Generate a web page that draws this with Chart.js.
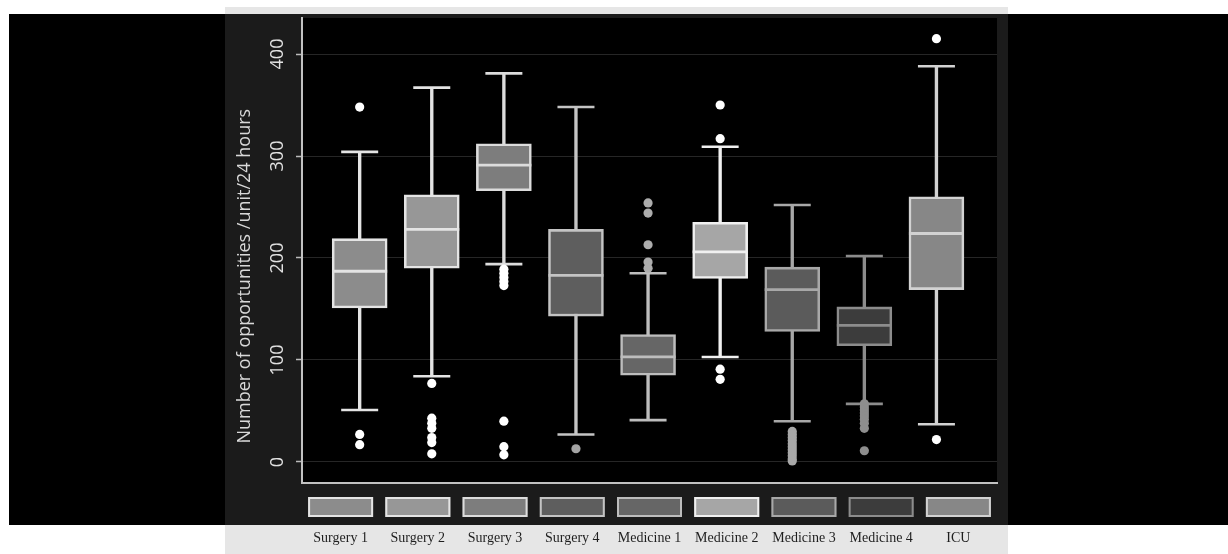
<!DOCTYPE html>
<html>
<head>
<meta charset="utf-8">
<script src="https://cdn.jsdelivr.net/npm/chart.js@4.4.1/dist/chart.umd.min.js"></script>
<style>
    html, body { margin: 0; padding: 0; background: #fff; }
    body { position: relative; width: 1228px; height: 554px; overflow: hidden; }
    #backdrop { position: absolute; left: 9px; top: 14px; width: 1219px; height: 511px; background: #000; }
    #panel { position: absolute; left: 225px; top: 7px; width: 783px; height: 547px; background: #e6e6e6; }
    #panel-dark { position: absolute; left: 0; top: 7px; width: 783px; height: 511px; background: #1b1b1b; }
    #chart-wrap { position: absolute; left: 0; top: 0; width: 783px; height: 547px; }
</style>
</head>
<body>
<div id="backdrop"></div>
<div id="panel">
    <div id="panel-dark"></div>
    <div id="chart-wrap"><canvas id="boxChart"></canvas></div>
</div>
<script>
const categories = ['Surgery 1', 'Surgery 2', 'Surgery 3', 'Surgery 4', 'Medicine 1', 'Medicine 2', 'Medicine 3', 'Medicine 4', 'ICU'];

// box plot statistics
const whiskerLow = [51, 84, 194, 27, 41, 103, 40, 57, 37];
const q1 = [151, 190, 266, 143, 85, 180, 128, 114, 169];
const median = [187, 228, 291, 183, 103, 206, 169, 134, 224];
const q3 = [219, 262, 312, 228, 125, 235, 191, 152, 260];
const whiskerHigh = [304, 367, 381, 348, 185, 309, 252, 202, 388];
const outliers = [
    [348, 27, 17],
    [77, 43, 38, 33, 24, 19, 8],
    [189, 185, 181, 177, 173, 40, 15, 7],
    [13],
    [254, 244, 213, 196, 190],
    [350, 317, 91, 81],
    [30, 27, 24, 21, 18, 15, 12, 9, 6, 3, 1],
    [57, 54, 51, 48, 45, 42, 38, 33, 11],
    [415, 22],
];

const yTicks = [0, 100, 200, 300, 400];

const boxFill = ['#8c8c8c', '#979797', '#7d7d7d', '#5e5e5e', '#666666', '#a6a6a6', '#5b5b5b', '#3c3c3c', '#878787'];
const boxLine = ['#e4e4e4', '#e4e4e4', '#dcdcdc', '#c4c4c4', '#bdbdbd', '#f0f0f0', '#a8a8a8', '#8c8c8c', '#d2d2d2'];
const outlierColor = ['#ffffff', '#ffffff', '#ffffff', '#a4a4a4', '#adadad', '#ffffff', '#a8a8a8', '#8e8e8e', '#ffffff'];

const idx = categories.map((c, i) => i);

const plotBackground = {
    id: 'plotBackground',
    beforeDraw(chart) {
        const { ctx, chartArea: a } = chart;
        ctx.save();
        ctx.fillStyle = '#000';
        ctx.fillRect(a.left, a.top, a.right - a.left, a.bottom - a.top);
        ctx.restore();
    },
};

// legend swatches sit between the axis line and the category labels
const swatchLegend = {
    id: 'swatchLegend',
    afterDraw(chart) {
        const { ctx } = chart;
        const xScale = chart.scales.x;
        const top = chart.chartArea.bottom + 14;
        ctx.save();
        categories.forEach((c, i) => {
            const cx = xScale.getPixelForValue(i);
            ctx.fillStyle = boxFill[i];
            ctx.fillRect(cx - 32.5, top, 65, 20);
            ctx.strokeStyle = boxLine[i];
            ctx.lineWidth = 2;
            ctx.strokeRect(cx - 31.5, top + 1, 63, 18);
        });
        ctx.restore();
    },
};

new Chart(document.getElementById('boxChart'), {
    type: 'bar',
    data: {
        labels: categories,
        datasets: [
            {
                type: 'scatter',
                label: 'outliers',
                xAxisID: 'xb',
                order: 1,
                data: outliers.flatMap((list, i) => list.map(v => ({ x: i, y: v }))),
                pointRadius: 4.6,
                pointBorderWidth: 0,
                pointBackgroundColor: ctx => outlierColor[ctx.raw ? ctx.raw.x : 0],
            },
            {
                type: 'scatter',
                label: 'caps high',
                xAxisID: 'xb',
                order: 2,
                data: idx.map(i => ({ x: i, y: whiskerHigh[i] })),
                pointStyle: 'line',
                pointRadius: 18.5,
                pointBorderWidth: 2.6,
                pointBorderColor: boxLine,
            },
            {
                type: 'scatter',
                label: 'caps low',
                xAxisID: 'xb',
                order: 2,
                data: idx.map(i => ({ x: i, y: whiskerLow[i] })),
                pointStyle: 'line',
                pointRadius: 18.5,
                pointBorderWidth: 2.6,
                pointBorderColor: boxLine,
            },
            {
                type: 'scatter',
                label: 'median',
                xAxisID: 'xb',
                order: 3,
                data: idx.map(i => ({ x: i, y: median[i] })),
                pointStyle: 'line',
                pointRadius: 27.5,
                pointBorderWidth: 2.8,
                pointBorderColor: boxLine,
            },
            {
                label: 'box',
                xAxisID: 'xb',
                order: 4,
                data: idx.map(i => ({ x: i, y: [q1[i], q3[i]] })),
                backgroundColor: boxFill,
                borderColor: boxLine,
                borderWidth: 2.6,
                borderSkipped: false,
                barThickness: 55,
                grouped: false,
            },
            {
                label: 'whisker',
                xAxisID: 'xb',
                order: 5,
                data: idx.map(i => ({ x: i, y: [whiskerLow[i], whiskerHigh[i]] })),
                backgroundColor: boxLine,
                borderWidth: 0,
                barThickness: 2.7,
                grouped: false,
            },
        ],
    },
    options: {
        responsive: true,
        maintainAspectRatio: false,
        animation: false,
        events: [],
        layout: { autoPadding: false, padding: { top: 11, right: 11, left: 0, bottom: 0 } },
        plugins: {
            legend: { display: false },
            tooltip: { enabled: false },
        },
        scales: {
            x: {
                type: 'category',
                position: 'bottom',
                offset: true,
                afterFit: scale => {
                    scale.height = 71;
                    scale.paddingLeft = 0;
                    scale.paddingRight = 0;
                },
                grid: { display: false, drawTicks: true, tickLength: 45 },
                border: { display: true, color: '#c2c2c2', width: 2 },
                ticks: {
                    autoSkip: false,
                    maxRotation: 0,
                    padding: 2,
                    color: '#1e1e1e',
                    font: { family: '"Liberation Serif", "Times New Roman", serif', size: 14 },
                },
            },
            xb: {
                type: 'linear',
                display: false,
                offset: false,
                min: -0.8,
                max: 8.84,
            },
            y: {
                type: 'linear',
                min: -20.6,
                max: 435.3,
                afterFit: scale => {
                    scale.width = 77;
                    scale.paddingTop = 0;
                    scale.paddingBottom = 0;
                },
                afterBuildTicks: scale => { scale.ticks = yTicks.map(v => ({ value: v })); },
                grid: { color: '#262626', lineWidth: 1, tickLength: 6, tickColor: '#bcbcbc', tickWidth: 1.5 },
                border: { display: true, color: '#c2c2c2', width: 2 },
                ticks: {
                    minRotation: 90,
                    maxRotation: 90,
                    crossAlign: 'center',
                    padding: 3,
                    color: '#e2e2e2',
                    font: { family: '"Open Sans", sans-serif', size: 18 },
                },
                title: {
                    display: true,
                    // trailing spaces push the rotated title below the axis centre, as in the source
                    text: 'Number of opportunities /unit/24 hours           ',
                    color: '#d8d8d8',
                    padding: { top: 9, bottom: 0 },
                    font: { family: '"Open Sans", sans-serif', size: 18 },
                },
            },
        },
    },
    plugins: [plotBackground, swatchLegend],
});
</script>
</body>
</html>
